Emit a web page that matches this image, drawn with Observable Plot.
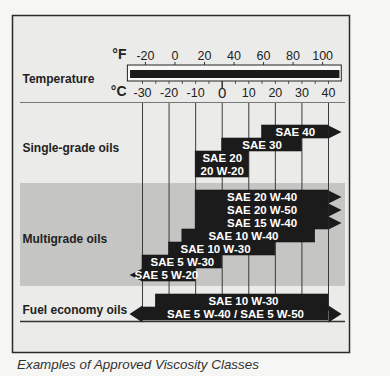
<!DOCTYPE html>
<html><head><meta charset="utf-8">
<script src="https://cdn.jsdelivr.net/npm/d3@7"></script>
<script src="https://cdn.jsdelivr.net/npm/@observablehq/plot@0.6"></script>
<style>
body{margin:0;background:#f6f6f4;font-family:"Liberation Sans",Arial,sans-serif;}
#cap{font-style:italic;font-size:13.4px;color:#333;margin:3px 0 0 17px;line-height:15px;}
</style></head><body>
<div id="chart"></div>
<div id="cap">Examples of Approved Viscosity Classes</div>
<script>
// ---- data ----
const grades = ["SAE 40","SAE 30","SAE 20\n20 W-20","SAE 20 W-40","SAE 20 W-50","SAE 15 W-40","SAE 10 W-40","SAE 10 W-30","SAE 5 W-30","SAE 5 W-20","SAE 10 W-30","SAE 5 W-40 / SAE 5 W-50"];
const group = ["single","single","single","multi","multi","multi","multi","multi","multi","multi","fuel","fuel"];
const minC = [15, 0, -10, -10, -10, -10, -15, -20, -30, -30, -25, -30];
const maxC = [40, 30, 10, 40, 40, 40, 35, 20, 0, -10, 40, 40];
const openMin = [false,false,false,false,false,false,false,false,false,true,false,true];
const openMax = [true,false,false,true,true,true,false,false,false,false,false,true];
const row = [0, 1, 2, 5, 6, 7, 8, 9, 10, 11, 13, 14];
const rowSpan = [1, 1, 2, 1, 1, 1, 1, 1, 1, 1, 1, 1];
const labelC = [27.5, 15, 0, 15, 15, 15, 8, -2.5, -15, -21, 8, 5];

const sections = ["Single-grade oils", "Multigrade oils", "Fuel economy oils"];
const sectionRow = [1.77, 8.77, 14.2];

const celsiusTicks = [-30, -20, -10, 0, 10, 20, 30, 40];
const celsiusMinor = [-30,-25,-20,-15,-10,-5,0,5,10,15,20,25,30,35,40];
const fahrenheitTicks = [-20, 0, 20, 40, 60, 80, 100];
const thermoRangeC = [-35.5, 45];

// ---- table built from arrays ----
const bars = grades.map((g, i) => ({
  grade: g, group: group[i], lo: minC[i], hi: maxC[i],
  openLo: openMin[i], openHi: openMax[i],
  r0: row[i], r1: row[i] + rowSpan[i], lx: labelC[i]
}));
const f2c = f => (f - 32) * 5 / 9;

// ---- layout constants (row units) ----
const L = {
  thermoTop: -4.615, thermoBot: -3.385, innerTop: -4.23, innerBot: -3.615,
  fTickTop: -4.85, cTickBot: -3.154, cZeroBot: -2.846,
  fLabel: -5.35, cLabel: -2.5, unitF: -5.46, unitC: -2.65, tempLabel: -3.6,
  headerSep: -1.77, gridBot: 14.3, bandTop: 4.46, bandBot: 12.38, fuelLine: 15.08
};

const ink = "#1c1b1b";
const arrow = (dir, h) => ({draw(ctx) {
  ctx.moveTo(0, -h); ctx.lineTo(dir * 13, 0); ctx.lineTo(0, h); ctx.closePath();
}});

const font = "Liberation Sans, Arial, sans-serif";

const plot = Plot.plot({
  width: 390, height: 354,
  marginLeft: 20, marginRight: 45, marginTop: 15, marginBottom: 2,
  x: {domain: [-30, 40], range: [142, 328], axis: null},
  y: {domain: [0, 15], range: [125, 320], axis: null},
  style: {background: "transparent", fontFamily: font},
  marks: [
    Plot.frame({fill: "#ebebe9", stroke: "#2a2a2a", strokeWidth: 1.5, insetLeft: -8, insetRight: -4}),
    // multigrade band
    Plot.rect([0], {y1: () => L.bandTop, y2: () => L.bandBot, fill: "#c5c5c3"}),
    // gridlines
    Plot.ruleX(celsiusTicks, {x: d => d, y1: () => L.headerSep, y2: () => L.gridBot, stroke: "#3a3a3a", strokeWidth: 1}),
    // separators
    Plot.ruleY([L.headerSep], {stroke: "#777", strokeWidth: 1}),
    Plot.ruleY([L.fuelLine], {stroke: "#333", strokeWidth: 1.5}),
    // bars
    Plot.rect(bars, {x1: "lo", x2: "hi", y1: "r0", y2: "r1", fill: ink, stroke: ink, strokeWidth: 0.6}),
    Plot.dot(bars.filter(d => d.openHi && d.group !== "fuel"), {x: "hi", y: d => (d.r0 + d.r1) / 2, r: 5, fill: ink, symbol: arrow(1, 6.5)}),
    Plot.dot(bars.filter(d => d.openLo && d.group !== "fuel"), {x: "lo", y: d => (d.r0 + d.r1) / 2, r: 5, fill: ink, symbol: arrow(-1, 6.5)}),
    Plot.dot(bars.filter(d => d.openHi && d.group === "fuel"), {x: "hi", y: d => (d.r0 + d.r1) / 2, r: 5, fill: ink, symbol: arrow(1, 8.5)}),
    Plot.dot(bars.filter(d => d.openLo && d.group === "fuel"), {x: "lo", y: d => (d.r0 + d.r1) / 2, r: 5, fill: ink, symbol: arrow(-1, 8.5)}),
    Plot.text(bars, {x: "lx", y: d => (d.r0 + d.r1) / 2, text: "grade", fill: "white", fontWeight: "bold", fontSize: 11.5, lineHeight: 1.13, fontFamily: font}),
    // section labels
    Plot.text(sections, {y: (d, i) => sectionRow[i], text: d => d, frameAnchor: "left", textAnchor: "start", dx: 2, fontWeight: "bold", fontSize: 12, fill: "#222", fontFamily: font}),
    // temperature header
    Plot.text(["Temperature"], {y: () => L.tempLabel, text: d => d, frameAnchor: "left", textAnchor: "start", dx: 2, fontWeight: "bold", fontSize: 12, fill: "#222", fontFamily: font}),
    Plot.rect([thermoRangeC], {x1: d => d[0], x2: d => d[1], y1: () => L.thermoTop, y2: () => L.thermoBot, fill: "#f7f7f5", stroke: "#222", strokeWidth: 1}),
    Plot.rect([thermoRangeC], {x1: d => d[0] + 1, x2: d => d[1] - 0.7, y1: () => L.innerTop, y2: () => L.innerBot, fill: ink}),
    Plot.ruleX(fahrenheitTicks, {x: f2c, y1: () => L.fTickTop, y2: () => L.thermoTop, stroke: "#333", strokeWidth: 1}),
    Plot.ruleX(celsiusMinor, {x: d => d, y1: () => L.thermoBot, y2: d => d === 0 ? L.cZeroBot : L.cTickBot, stroke: "#333", strokeWidth: d => d === 0 ? 1.5 : 0.8}),
    Plot.text(fahrenheitTicks, {x: f2c, y: () => L.fLabel, text: d => String(d), fontSize: 12.5, fill: "#222", fontFamily: font}),
    Plot.text(celsiusTicks, {x: d => d, y: () => L.cLabel, text: d => String(d), fontSize: d => d === 0 ? 15 : 12.5, fill: "#222", fontFamily: font}),
    Plot.text(["°F"], {x: () => -30, y: () => L.unitF, text: d => d, textAnchor: "end", dx: -16, fontWeight: "bold", fontSize: 14, fill: "#222", fontFamily: font}),
    Plot.text(["°C"], {x: () => -30, y: () => L.unitC, text: d => d, textAnchor: "end", dx: -16, fontWeight: "bold", fontSize: 14, fill: "#222", fontFamily: font})
  ]
});
document.getElementById("chart").appendChild(plot);
</script></body></html>
